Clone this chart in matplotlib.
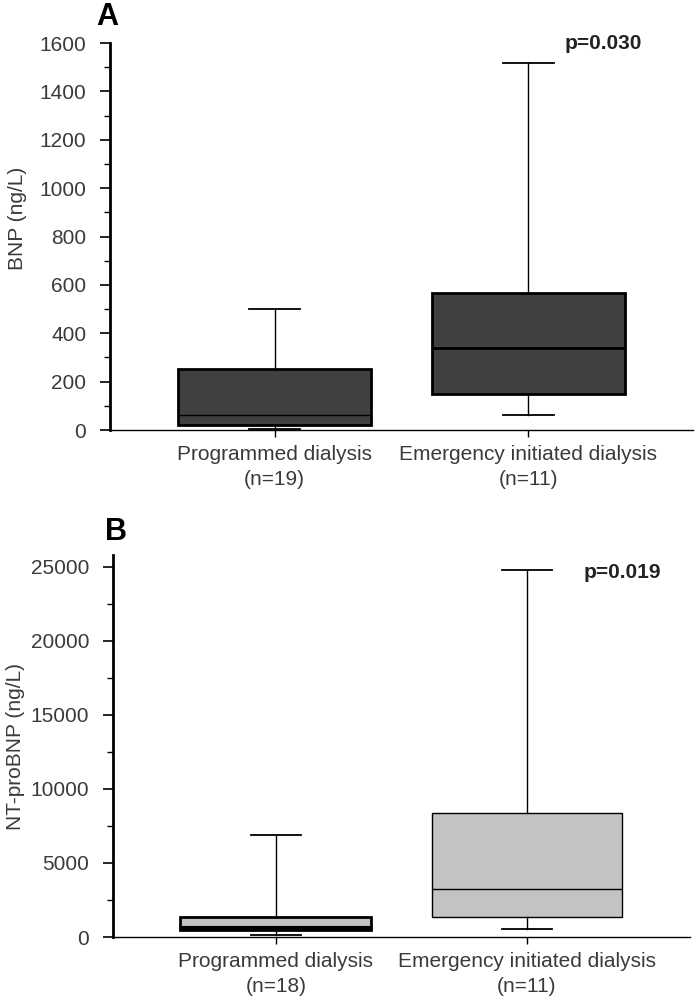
import matplotlib
matplotlib.use("Agg")
import matplotlib.pyplot as plt
from matplotlib.ticker import MultipleLocator

plt.rcParams['font.family'] = ['Liberation Sans', 'DejaVu Sans']

# group labels
groups_a = ["Programmed dialysis\n(n=19)", "Emergency initiated dialysis\n(n=11)"]
groups_b = ["Programmed dialysis\n(n=18)", "Emergency initiated dialysis\n(n=11)"]

# panel A: BNP (ng/L) box summaries
bnp_whislo = [5, 62]
bnp_q1 = [21, 149]
bnp_med = [62, 339]
bnp_q3 = [252, 566]
bnp_whishi = [500, 1517]

# panel B: NT-proBNP (ng/L) box summaries
nt_whislo = [130, 540]
nt_q1 = [460, 1350]
nt_med = [580, 3240]
nt_q3 = [1350, 8380]
nt_whishi = [6890, 24800]


def stats(lo, q1, med, q3, hi, labels):
    out = []
    for i in range(len(lo)):
        out.append(dict(whislo=lo[i], q1=q1[i], med=med[i], q3=q3[i],
                        whishi=hi[i], fliers=[], label=labels[i]))
    return out


def draw(ax, st, fill, med_lws, box_lws):
    bp = ax.bxp(st, positions=[1, 2], widths=0.76, patch_artist=True,
                showfliers=False, capwidths=0.2,
                whiskerprops=dict(color='black', linewidth=1),
                capprops=dict(color='black', linewidth=1.3))
    for i, b in enumerate(bp['boxes']):
        b.set_facecolor(fill)
        b.set_edgecolor('black')
        b.set_linewidth(box_lws[i])
    for i, m in enumerate(bp['medians']):
        m.set_color('black')
        m.set_linewidth(med_lws[i])
    ax.set_xlim(0.35, 2.65)
    for s in ['top', 'right']:
        ax.spines[s].set_visible(False)
    ax.spines['left'].set_linewidth(2)
    ax.spines['bottom'].set_linewidth(1)
    ax.tick_params(axis='y', which='major', length=7, width=1.2,
                   labelsize=15, labelcolor='#3a3a3a', pad=10)
    ax.tick_params(axis='y', which='minor', length=4, width=1)
    ax.tick_params(axis='x', length=5, width=1, labelsize=15,
                   labelcolor='#3a3a3a', pad=6)
    for t in ax.get_xticklabels():
        t.set_linespacing(1.35)
    return bp


fig = plt.figure(figsize=(7, 10.08), dpi=100)

ax1 = fig.add_axes([0.157, 0.5734, 0.833, 0.3839])
draw(ax1, stats(bnp_whislo, bnp_q1, bnp_med, bnp_q3, bnp_whishi, groups_a),
     '#404040', [1, 2], [2, 2])
ax1.set_ylim(0, 1600)
ax1.yaxis.set_major_locator(MultipleLocator(200))
ax1.yaxis.set_minor_locator(MultipleLocator(100))
ax1.set_ylabel("BNP (ng/L)", fontsize=15, color='#3a3a3a')
ax1.yaxis.set_label_coords(-0.142, 0.548)
ax1.text(0.78, 0.999, "p=0.030", transform=ax1.transAxes, fontsize=15,
         fontweight='bold', color='#222222', va='center')
fig.text(0.137, 0.983, "A", fontsize=22, fontweight='bold', va='center')

ax2 = fig.add_axes([0.161, 0.0704, 0.825, 0.379])
draw(ax2, stats(nt_whislo, nt_q1, nt_med, nt_q3, nt_whishi, groups_b),
     '#c3c3c3', [3, 1], [2, 1])
ax2.set_ylim(0, 25800)
ax2.yaxis.set_major_locator(MultipleLocator(5000))
ax2.yaxis.set_minor_locator(MultipleLocator(2500))
ax2.set_ylabel("NT-proBNP (ng/L)", fontsize=15, color='#3a3a3a')
ax2.yaxis.set_label_coords(-0.152, 0.5)
ax2.text(0.815, 0.955, "p=0.019", transform=ax2.transAxes, fontsize=15,
         fontweight='bold', color='#222222', va='center')
fig.text(0.15, 0.472, "B", fontsize=22, fontweight='bold', va='center')

fig.savefig("out.png", dpi=100)
